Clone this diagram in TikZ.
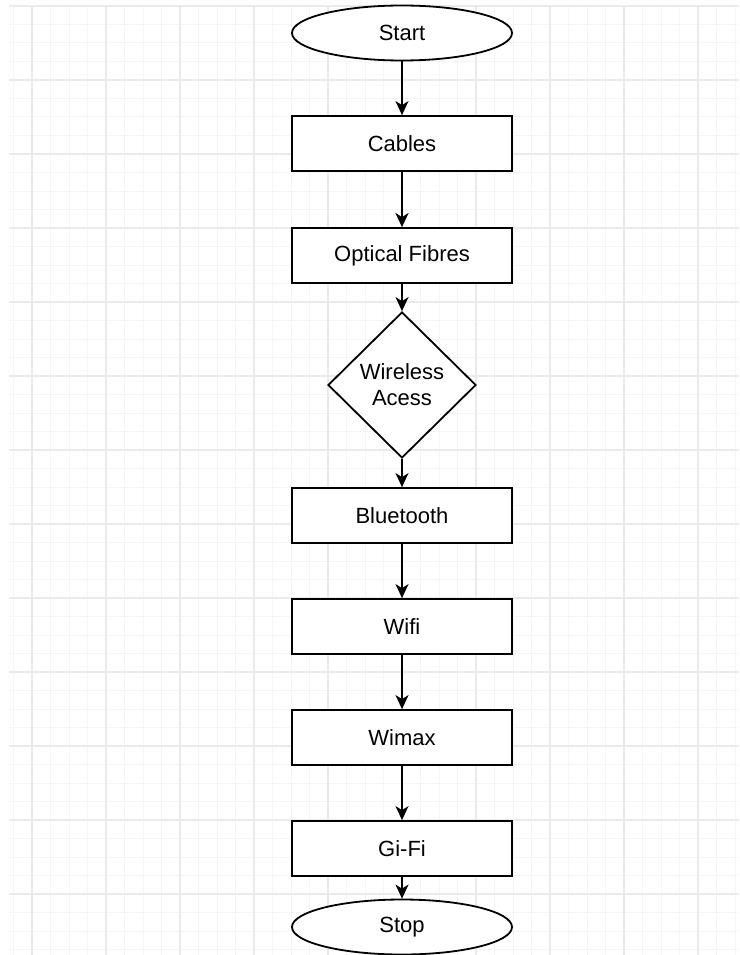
\documentclass[tikz,border=0pt]{standalone}
\usepackage{fontspec}
\setmainfont{Liberation Sans}
\usetikzlibrary{shapes.geometric,arrows.meta}
\definecolor{gridminor}{HTML}{F5F5F5}
\definecolor{gridmajor}{HTML}{EAEAEA}
\tikzset{
  procbox/.style={draw, line width=1.8pt, fill=white, rectangle, minimum width=220pt, minimum height=55pt, inner sep=0pt, font=\fontsize{22}{26}\selectfont},
  termbox/.style={draw, line width=1.8pt, fill=white, ellipse, minimum width=220pt, minimum height=55pt, inner sep=0pt, font=\fontsize{22}{26}\selectfont},
  decbox/.style={draw, line width=1.8pt, fill=white, diamond, minimum width=148pt, minimum height=146pt, inner sep=0pt, align=center, font=\fontsize{22}{26}\selectfont},
  arr/.style={line width=1.8pt, -{Stealth[length=14pt, width=13pt, inset=4pt]}},
  arrthick/.style={line width=2.8pt, -{Stealth[length=14pt, width=13pt, inset=4pt]}}
}
\begin{document}
\begin{tikzpicture}[x=1pt, y=-1pt]
\useasboundingbox (0,0) rectangle (739,955);
% grid
\foreach \i in {0,...,39} {
  \draw[gridminor, line width=1pt] ({13.5+18.5*\i},6) -- ({13.5+18.5*\i},955);
}
\foreach \i in {0,...,51} {
  \draw[gridminor, line width=1pt] (9,{6+18.5*\i}) -- (739,{6+18.5*\i});
}
\foreach \i in {0,...,9} {
  \draw[gridmajor, line width=1.2pt] ({32+74*\i},6) -- ({32+74*\i},955);
}
\foreach \i in {0,...,12} {
  \draw[gridmajor, line width=1.2pt] (9,{6+74*\i}) -- (739,{6+74*\i});
}
% nodes
\node[termbox] (start) at (402,33) {Start};
\node[procbox] (cables) at (402,143.5) {Cables};
\node[procbox] (optical) at (402,255.5) {Optical Fibres};
\node[decbox] (wireless) at (402,385) {Wireless\\Acess};
\node[procbox] (bluetooth) at (402,515.5) {Bluetooth};
\node[procbox] (wifi) at (402,626.5) {Wifi};
\node[procbox] (wimax) at (402,737.5) {Wimax};
\node[procbox] (gifi) at (402,848.5) {Gi-Fi};
\node[termbox] (stop) at (402,927) {Stop};
% connectors
\draw[arr] (start) -- (cables);
\draw[arrthick] (cables) -- (optical);
\draw[arr] (optical) -- (wireless);
\draw[arr] (wireless) -- (bluetooth);
\draw[arr] (bluetooth) -- (wifi);
\draw[arr] (wifi) -- (wimax);
\draw[arr] (wimax) -- (gifi);
\draw[arr] (gifi) -- (stop);
\end{tikzpicture}
\end{document}
